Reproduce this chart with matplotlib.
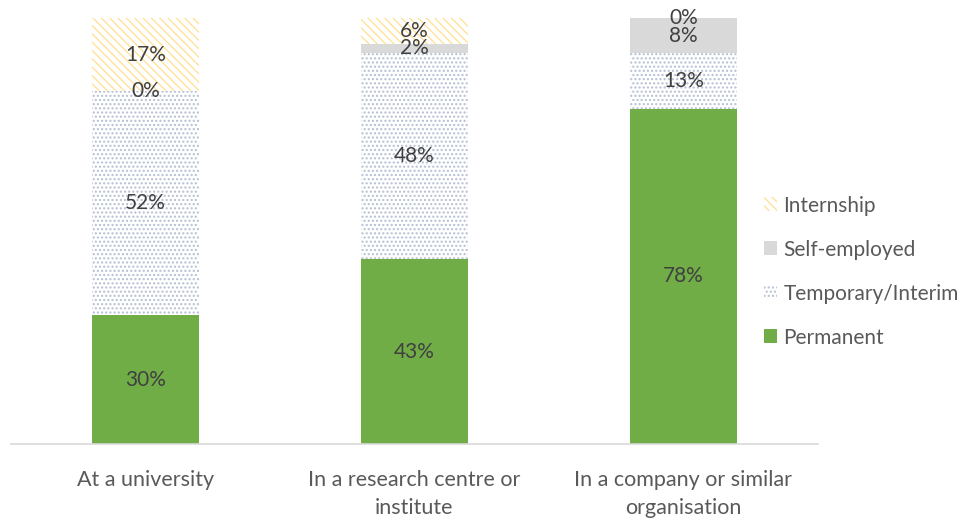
import numpy as np
import matplotlib.pyplot as plt

plt.rcParams['font.family'] = ['Lato', 'DejaVu Sans']
plt.rcParams['hatch.linewidth'] = 1.0

# data (percent)
categories = ['At a university', 'In a research centre or\ninstitute',
              'In a company or similar\norganisation']
permanent = [30, 43, 78]
temporary = [52, 48, 13]
self_employed = [0, 2, 8]
internship = [17, 6, 0]

series = [
    ('Permanent', permanent, dict(color='#70AD47', edgecolor='#70AD47', hatch=None)),
    ('Temporary/Interim', temporary, dict(color='white', edgecolor='#B4BFD2', hatch='....')),
    ('Self-employed', self_employed, dict(color='#D9D9D9', edgecolor='#D9D9D9', hatch=None)),
    ('Internship', internship, dict(color='white', edgecolor='#FFE39A', hatch='\\\\\\\\')),
]

fig = plt.figure(figsize=(9.7, 5.18), dpi=100)
ax = fig.add_axes([11 / 970, 74 / 518, 807 / 970, 430 / 518])

x = np.arange(len(categories))
bottom = np.zeros(len(categories))
handles = []
for name, vals, style in series:
    vals = np.array(vals, dtype=float)
    bars = ax.bar(x, vals, 0.4, bottom=bottom, linewidth=0, label=name, **style)
    handles.append(bars)
    for xi, b, v in zip(x, bottom, vals):
        ax.text(xi, b + v / 2, f'{v:.0f}%', ha='center', va='center',
                fontsize=15, color='#404040')
    bottom += vals

ax.set_xlim(-0.5, 2.5)
ax.set_ylim(0, 100)
ax.set_yticks([])
ax.set_xticks(x)
ax.set_xticklabels(categories, fontsize=15.5, color='#595959', linespacing=1.45)
ax.tick_params(axis='x', length=0, pad=19)
for side in ['top', 'right', 'left']:
    ax.spines[side].set_visible(False)
ax.spines['bottom'].set_color('#D9D9D9')
ax.spines['bottom'].set_linewidth(1.2)

fig.legend(handles[::-1], [s[0] for s in series][::-1], loc='upper left',
           bbox_to_anchor=(745 / 970, 1 - 177 / 518), frameon=False,
           fontsize=15, labelcolor='#595959', handlelength=0.65,
           handleheight=0.65, handletextpad=0.3, labelspacing=1.15)

fig.savefig('out.png', dpi=100)
